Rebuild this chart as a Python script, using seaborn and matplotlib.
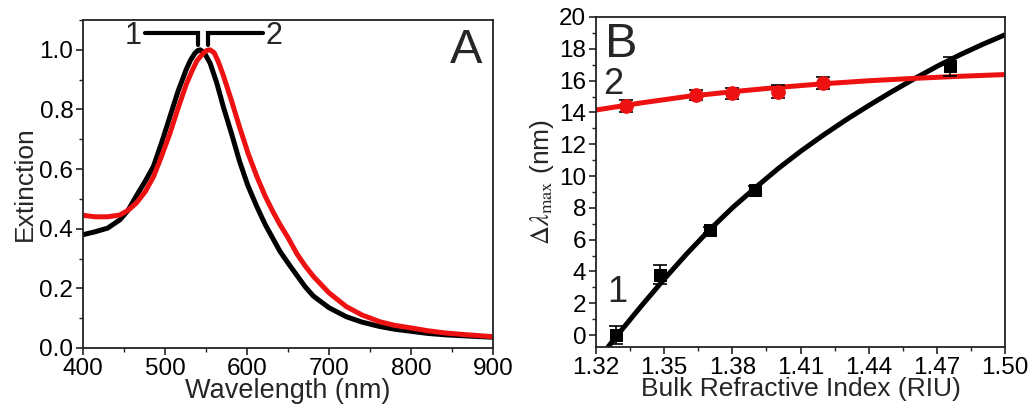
import numpy as np
import pandas as pd
import matplotlib
matplotlib.use("Agg")
import matplotlib.pyplot as plt
from matplotlib.ticker import MultipleLocator, FormatStrFormatter
import seaborn as sns

# ---------------- Panel A data ----------------
wl_black = [400, 415, 430, 445, 455, 465, 476, 486, 496, 506, 516, 526, 531, 536, 540, 543,
            548, 555, 563, 571, 581, 591, 601, 612, 622, 632, 640, 650, 661, 671, 681,
            700, 721, 740, 762, 780, 803, 820, 843, 870, 900]
ext_black = [0.380, 0.390, 0.402, 0.430, 0.462, 0.510, 0.560, 0.610, 0.690, 0.776, 0.862, 0.935, 0.965, 0.987, 0.998, 1.000,
             0.990, 0.955, 0.890, 0.810, 0.720, 0.625, 0.545, 0.474, 0.415, 0.365, 0.325, 0.285, 0.243, 0.205, 0.174,
             0.135, 0.105, 0.087, 0.072, 0.063, 0.055, 0.049, 0.044, 0.040, 0.036]

wl_red = [400, 415, 430, 445, 455, 465, 476, 486, 496, 506, 516, 526, 533, 539, 547, 551,
          555, 560, 565, 571, 581, 591, 601, 612, 622, 632, 640, 650, 661, 671, 681,
          700, 721, 740, 762, 780, 803, 820, 843, 870, 900]
ext_red = [0.445, 0.440, 0.440, 0.446, 0.462, 0.486, 0.525, 0.575, 0.645, 0.720, 0.805, 0.885, 0.930, 0.964, 0.990, 0.998,
           1.000, 0.990, 0.960, 0.915, 0.830, 0.740, 0.655, 0.575, 0.510, 0.455, 0.415, 0.370, 0.315, 0.275, 0.240,
           0.185, 0.139, 0.111, 0.088, 0.076, 0.066, 0.058, 0.050, 0.044, 0.038]

# ---------------- Panel B data ----------------
ri_1 = [1.329, 1.348, 1.370, 1.390, 1.4758]
shift_1 = [0.0, 3.8, 6.6, 9.1, 16.9]
err_1 = [0.55, 0.6, 0.2, 0.3, 0.6]

ri_2 = [1.333, 1.364, 1.380, 1.400, 1.420]
shift_2 = [14.4, 15.1, 15.2, 15.3, 15.85]
err_2 = [0.4, 0.3, 0.35, 0.4, 0.35]

fit1_x = [1.3254, 1.33, 1.34, 1.35, 1.36, 1.37, 1.38, 1.39, 1.40, 1.41, 1.42,
          1.43, 1.44, 1.45, 1.46, 1.47, 1.48, 1.49, 1.50]
fit1_y = [-0.73, 0.10, 1.84, 3.52, 5.12, 6.62, 8.00, 9.25, 10.45, 11.55, 12.57,
          13.53, 14.43, 15.29, 16.11, 16.89, 17.61, 18.27, 18.88]
fit2_x = [1.32, 1.34, 1.36, 1.38, 1.40, 1.42, 1.44, 1.46, 1.48, 1.50]
fit2_y = [14.15, 14.60, 15.00, 15.30, 15.57, 15.80, 15.99, 16.14, 16.27, 16.38]

BLACK = "#000000"
RED = "#ee1111"

sns.set_style("ticks")
plt.rcParams["font.family"] = ["Liberation Sans", "DejaVu Sans"]
plt.rcParams["mathtext.fontset"] = "stix"

fig = plt.figure(figsize=(10.34, 4.11), dpi=100)
axA = fig.add_axes([0.0803, 0.1533, 0.3965, 0.798])
axB = fig.add_axes([0.5764, 0.1557, 0.3956, 0.803])

dfA = pd.concat([
    pd.DataFrame({"wl": wl_black, "ext": ext_black, "s": "1"}),
    pd.DataFrame({"wl": wl_red, "ext": ext_red, "s": "2"}),
])
sns.lineplot(data=dfA, x="wl", y="ext", hue="s", palette={"1": BLACK, "2": RED},
             estimator=None, sort=False, lw=3.6, legend=False, ax=axA)

axA.set_xlim(400, 900)
axA.set_ylim(0, 1.1)
axA.xaxis.set_major_locator(MultipleLocator(100))
axA.xaxis.set_minor_locator(MultipleLocator(50))
axA.yaxis.set_major_locator(MultipleLocator(0.2))
axA.yaxis.set_minor_locator(MultipleLocator(0.1))
axA.yaxis.set_major_formatter(FormatStrFormatter("%.1f"))
axA.set_xlabel("Wavelength (nm)", fontsize=19.5, labelpad=-1)
axA.set_ylabel("Extinction", fontsize=19, labelpad=2)

# bracket annotations at peak positions
pk1 = wl_black[int(np.argmax(ext_black))]
pk2 = wl_red[int(np.argmax(ext_red))]
y_hi, y_lo = 1.057, 1.017
axA.plot([475, pk1 - 3, pk1 - 3], [y_hi, y_hi, y_lo], color=BLACK, lw=3, solid_joinstyle="miter")
axA.plot([pk2 - 3, pk2 - 3, 620], [y_lo, y_hi, y_hi], color=BLACK, lw=3, solid_joinstyle="miter")
axA.text(472, 1.045, "1", fontsize=22, ha="right", va="center")
axA.text(623, 1.045, "2", fontsize=22, ha="left", va="center")
axA.text(0.975, 0.975, "A", transform=axA.transAxes, fontsize=35, ha="right", va="top")

# Panel B
dfF = pd.concat([
    pd.DataFrame({"x": fit1_x, "y": fit1_y, "s": "1"}),
    pd.DataFrame({"x": fit2_x, "y": fit2_y, "s": "2"}),
])
sns.lineplot(data=dfF, x="x", y="y", hue="s", palette={"1": BLACK, "2": RED},
             estimator=None, sort=False, lw=3.6, legend=False, ax=axB, zorder=2)
axB.errorbar(ri_1, shift_1, yerr=err_1, fmt="none", ecolor=BLACK, elinewidth=1.2, capsize=5, capthick=1.2, zorder=3)
axB.errorbar(ri_2, shift_2, yerr=err_2, fmt="none", ecolor=BLACK, elinewidth=1.2, capsize=5, capthick=1.2, zorder=3)
sns.scatterplot(x=ri_1, y=shift_1, marker="s", s=85, color=BLACK, edgecolor=BLACK, ax=axB, zorder=4)
sns.scatterplot(x=ri_2, y=shift_2, marker="o", s=95, color=RED, edgecolor=RED, ax=axB, zorder=4)

axB.set_xlim(1.32, 1.50)
axB.set_ylim(-0.75, 20)
axB.xaxis.set_major_locator(MultipleLocator(0.03))
axB.xaxis.set_minor_locator(MultipleLocator(0.015))
axB.xaxis.set_major_formatter(FormatStrFormatter("%.2f"))
axB.yaxis.set_major_locator(MultipleLocator(2))
axB.yaxis.set_minor_locator(MultipleLocator(1))
axB.set_xlabel("Bulk Refractive Index (RIU)", fontsize=19, labelpad=-1)
axB.set_ylabel(r"$\mathit{\Delta\lambda}_{\mathrm{max}}$ (nm)", fontsize=19, labelpad=2)
axB.text(0.022, 0.985, "B", transform=axB.transAxes, fontsize=35, ha="left", va="top")
axB.text(0.018, 0.795, "2", transform=axB.transAxes, fontsize=26, ha="left", va="center")
axB.text(0.027, 0.165, "1", transform=axB.transAxes, fontsize=26, ha="left", va="center")

for ax in (axA, axB):
    for sp in ax.spines.values():
        sp.set_visible(True)
        sp.set_linewidth(1.3)
        sp.set_color("#222222")
    ax.tick_params(which="major", direction="out", length=5, width=1.2, labelsize=17.5, pad=2,
                   top=False, right=False, colors="#222222", labelcolor="black")
    ax.tick_params(which="minor", direction="out", length=3, width=1.0, top=False, right=False, colors="#222222")

fig.savefig("out.png", dpi=100)
